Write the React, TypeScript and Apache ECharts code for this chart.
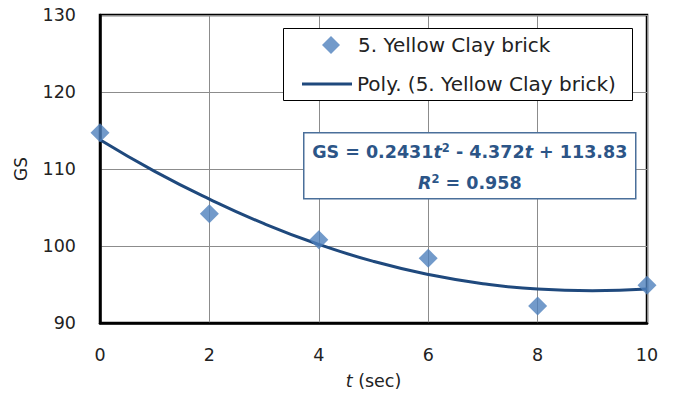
import React, { useEffect, useRef } from "react";
import * as echarts from "echarts";

const tValues = [0, 2, 4, 6, 8, 10];
const gsValues = [114.7, 104.2, 100.8, 98.4, 92.2, 94.9];
const trendT = [0, 1, 2, 3, 4, 5, 6, 7, 8, 9, 10];
const trendGS = [113.8, 109.7, 106.1, 102.9, 100.2, 98.0, 96.3, 95.1, 94.4, 94.2, 94.4];
const yTicks = [90, 100, 110, 120, 130];
const xTicks = [0, 2, 4, 6, 8, 10];
const seriesName = "5. Yellow Clay brick";
const trendName = "Poly. (5. Yellow Clay brick)";

const FONT = "'DejaVu Sans', sans-serif";
const TXT = "#222";
const EQ = "#2c5587";

export default function App() {
  const ref = useRef<HTMLDivElement>(null);
  useEffect(() => {
    if (!ref.current) return;
    const chart = echarts.init(ref.current, null, { renderer: "svg" });
    const legendText = { fontFamily: FONT, fontSize: 20, color: TXT, lineHeight: 20 };
    const eqRich = {
      b: { fontFamily: FONT, fontSize: 17.5, fontWeight: "bold", fill: EQ, lineHeight: 20 },
      i: { fontFamily: FONT, fontSize: 17.5, fontWeight: "bold", fontStyle: "italic", fill: EQ, lineHeight: 20 },
      s: { fontFamily: FONT, fontSize: 11.5, fontWeight: "bold", fill: EQ, lineHeight: 12, verticalAlign: "top" },
    };
    chart.setOption({
      animation: false,
      backgroundColor: "#fff",
      grid: {
        left: 100,
        right: 26,
        top: 15,
        bottom: 75,
        show: true,
        borderColor: "#000",
        borderWidth: 2.5,
      },
      xAxis: {
        type: "value",
        min: xTicks[0],
        max: xTicks[xTicks.length - 1],
        interval: 2,
        name: "{i|t} (sec)",
        nameLocation: "middle",
        nameGap: 49,
        nameTextStyle: {
          fontFamily: FONT,
          fontSize: 17.5,
          color: TXT,
          rich: { i: { fontStyle: "italic", fontFamily: FONT, fontSize: 17.5, color: TXT } },
        },
        axisLine: { show: true, lineStyle: { color: "#000", width: 2.5 } },
        axisTick: { show: false },
        axisLabel: { margin: 23, fontFamily: FONT, fontSize: 17.5, color: TXT },
        splitLine: { show: true, lineStyle: { color: "#8c8c8c", width: 1 } },
      },
      yAxis: {
        type: "value",
        min: yTicks[0],
        max: yTicks[yTicks.length - 1],
        interval: 10,
        name: "GS",
        nameLocation: "middle",
        nameGap: 71,
        nameRotate: 90,
        nameTextStyle: { fontFamily: FONT, fontSize: 17, color: TXT },
        axisLine: { show: true, lineStyle: { color: "#000", width: 2.5 } },
        axisTick: { show: false },
        axisLabel: { margin: 24, fontFamily: FONT, fontSize: 17.5, color: TXT },
        splitLine: { show: true, lineStyle: { color: "#8c8c8c", width: 1 } },
      },
      legend: [
        {
          orient: "vertical",
          left: 322,
          top: 35,
          padding: 0,
          z: 6,
          itemWidth: 18,
          itemHeight: 18,
          selectedMode: false,
          textStyle: { ...legendText, padding: [0, 0, 0, 13] },
          data: [{ name: seriesName, icon: "diamond" }],
        },
        {
          orient: "vertical",
          left: 302,
          top: 74,
          padding: 0,
          z: 6,
          itemWidth: 50,
          itemHeight: 3,
          selectedMode: false,
          textStyle: legendText,
          data: [{ name: trendName, icon: "rect" }],
        },
      ],
      graphic: [
        {
          type: "rect",
          left: 283,
          top: 28,
          z: 5,
          shape: { x: 0, y: 0, width: 349, height: 72 },
          style: { fill: "#fff", stroke: "#000", lineWidth: 1 },
        },
        {
          type: "group",
          left: 303,
          top: 132,
          z: 5,
          children: [
            {
              type: "rect",
              z: 5,
              shape: { x: 0, y: 0, width: 332, height: 66 },
              style: { fill: "#fff", stroke: "#4a6f9a", lineWidth: 1.5 },
            },
            {
              type: "text",
              z: 6,
              x: 166,
              y: 19,
              style: {
                text: "{b|GS = 0.2431}{i|t}{s|2}{b| - 4.372}{i|t}{b| + 113.83}",
                align: "center",
                verticalAlign: "middle",
                fill: EQ,
                rich: eqRich,
              },
            },
            {
              type: "text",
              z: 6,
              x: 166,
              y: 50,
              style: {
                text: "{i|R}{s|2}{b| = 0.958}",
                align: "center",
                verticalAlign: "middle",
                fill: EQ,
                rich: eqRich,
              },
            },
          ],
        },
      ],
      series: [
        {
          name: trendName,
          type: "line",
          data: trendT.map((t, i) => [t, trendGS[i]]),
          smooth: true,
          showSymbol: false,
          symbol: "none",
          lineStyle: { color: "#1f497d", width: 3 },
          itemStyle: { color: "#1f497d" },
          z: 2,
        },
        {
          name: seriesName,
          type: "scatter",
          data: tValues.map((t, i) => [t, gsValues[i]]),
          symbol: "diamond",
          symbolSize: 19,
          itemStyle: { color: "#4f81bd" },
          z: 3,
        },
      ],
    });
    return () => chart.dispose();
  }, []);
  return <div ref={ref} style={{ width: 673, height: 398, position: "absolute", left: 0, top: 0 }} />;
}
